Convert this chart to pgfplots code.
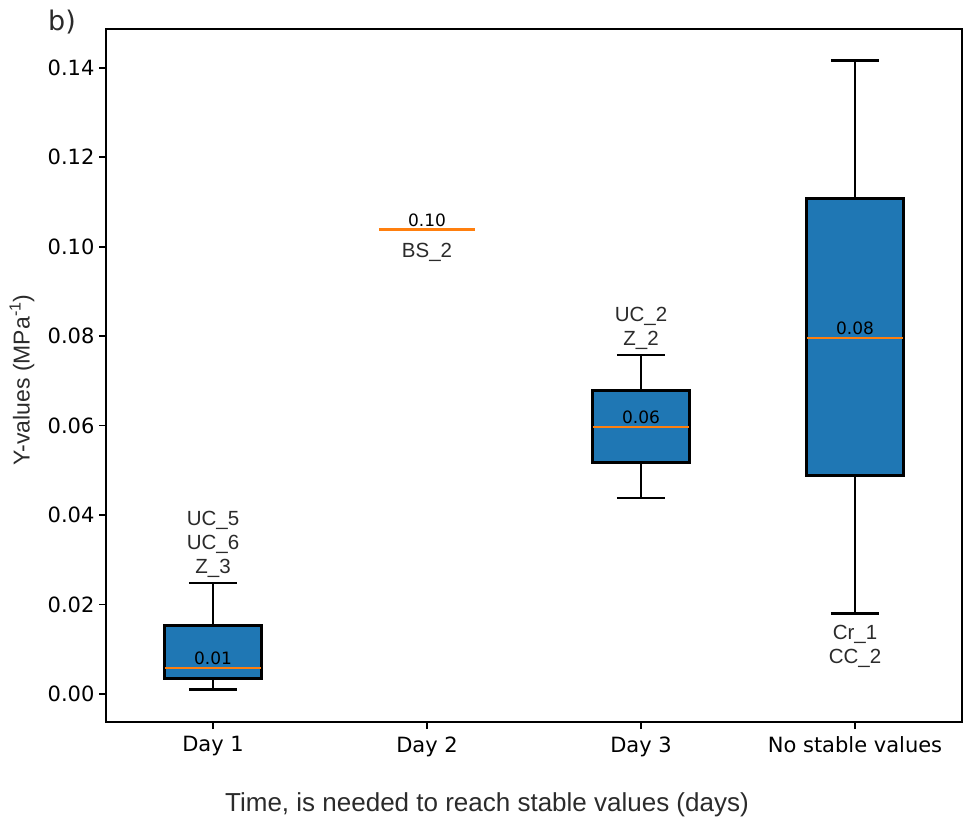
\documentclass[border=0pt]{standalone}
\usepackage{fontspec}
\setmainfont{DejaVu Sans}
\newfontfamily\labfont{Liberation Sans}
\usepackage{pgfplots}
\pgfplotsset{compat=1.18}

\definecolor{boxblue}{HTML}{1F77B4}
\definecolor{medorange}{HTML}{FF7F0E}
\definecolor{notegray}{HTML}{2B2B2B}

\newcommand{\tickfont}{\fontsize{21}{25}\selectfont}
\newcommand{\notefont}{\labfont\fontsize{20.5}{24}\selectfont\color{notegray}}
\newcommand{\medfont}{\fontsize{17}{20}\selectfont}

\pgfplotsset{
  boxbody/.style={draw=black, fill=boxblue, line width=2.8pt},
  whisk/.style={black, line width=2.8pt},
  med/.style={medorange, line width=2.8pt},
}

\begin{document}
\begin{tikzpicture}
\path[use as bounding box] (-106pt,-103pt) rectangle (859pt,722pt);
\begin{axis}[
  at={(0pt,0pt)}, anchor=south west,
  scale only axis,
  width=856pt, height=693pt,
  xmin=0.5, xmax=4.5,
  ymin=-0.0063, ymax=0.1487,
  xtick={1,2,3,4},
  xticklabels={Day 1, Day 2, Day 3, No stable values},
  ytick={0,0.02,0.04,0.06,0.08,0.1,0.12,0.14},
  scaled y ticks=false,
  yticklabel style={/pgf/number format/.cd, fixed, fixed zerofill, precision=2, /tikz/.cd},
  /pgf/number format/assume math mode=true,
  tick label style={font=\tickfont, black},
  tick align=outside,
  major tick length=7pt,
  tick style={line width=1.8pt, black},
  xtick pos=bottom, ytick pos=left,
  axis line style={line width=2pt},
  yticklabel style={xshift=-1pt},
  xticklabel style={yshift=-4pt},
  clip=false,
]

% Day 1: whiskers 0.0009 / 0.0248, quartiles 0.00335 / 0.0152, median 0.0058
\addplot[whisk] coordinates {(1,0.00335) (1,0.0009)};
\addplot[whisk] coordinates {(0.8875,0.0009) (1.1125,0.0009)};
\addplot[whisk] coordinates {(1,0.0152) (1,0.0248)};
\addplot[whisk] coordinates {(0.8875,0.0248) (1.1125,0.0248)};
\addplot[boxbody] coordinates {(0.775,0.00335) (1.225,0.00335) (1.225,0.0152) (0.775,0.0152)} -- cycle;
\addplot[med] coordinates {(0.775,0.0058) (1.225,0.0058)};

% Day 2: a single sample, so only the median line remains
\addplot[med] coordinates {(1.775,0.1038) (2.225,0.1038)};

% Day 3: whiskers 0.0438 / 0.0758, quartiles 0.0517 / 0.0678, median 0.0597
\addplot[whisk] coordinates {(3,0.0517) (3,0.0438)};
\addplot[whisk] coordinates {(2.8875,0.0438) (3.1125,0.0438)};
\addplot[whisk] coordinates {(3,0.0678) (3,0.0758)};
\addplot[whisk] coordinates {(2.8875,0.0758) (3.1125,0.0758)};
\addplot[boxbody] coordinates {(2.775,0.0517) (3.225,0.0517) (3.225,0.0678) (2.775,0.0678)} -- cycle;
\addplot[med] coordinates {(2.775,0.0597) (3.225,0.0597)};

% No stable values: whiskers 0.0179 / 0.1416, quartiles 0.0488 / 0.1107, median 0.0796
\addplot[whisk] coordinates {(4,0.0488) (4,0.0179)};
\addplot[whisk] coordinates {(3.8875,0.0179) (4.1125,0.0179)};
\addplot[whisk] coordinates {(4,0.1107) (4,0.1416)};
\addplot[whisk] coordinates {(3.8875,0.1416) (4.1125,0.1416)};
\addplot[boxbody] coordinates {(3.775,0.0488) (4.225,0.0488) (4.225,0.1107) (3.775,0.1107)} -- cycle;
\addplot[med] coordinates {(3.775,0.0796) (4.225,0.0796)};

% median values
\node[anchor=base, yshift=3pt, font=\medfont] at (axis cs:1,0.0058) {0.01};
\node[anchor=base, yshift=3pt, font=\medfont] at (axis cs:2,0.1038) {0.10};
\node[anchor=base, yshift=3pt, font=\medfont] at (axis cs:3,0.0597) {0.06};
\node[anchor=base, yshift=3pt, font=\medfont] at (axis cs:4,0.0796) {0.08};

% sample names at the whisker ends
\node[anchor=base, yshift=57pt, font=\notefont] at (axis cs:1,0.0248) {UC\_5};
\node[anchor=base, yshift=33pt, font=\notefont] at (axis cs:1,0.0248) {UC\_6};
\node[anchor=base, yshift=9pt, font=\notefont] at (axis cs:1,0.0248) {Z\_3};
\node[anchor=base, yshift=-28pt, font=\notefont] at (axis cs:2,0.1038) {BS\_2};
\node[anchor=base, yshift=33pt, font=\notefont] at (axis cs:3,0.0758) {UC\_2};
\node[anchor=base, yshift=9pt, font=\notefont] at (axis cs:3,0.0758) {Z\_2};
\node[anchor=base, yshift=-26pt, font=\notefont] at (axis cs:4,0.0179) {Cr\_1};
\node[anchor=base, yshift=-50pt, font=\notefont] at (axis cs:4,0.0179) {CC\_2};
\end{axis}

% axis titles and panel letter
\node[font=\labfont\fontsize{26}{30}\selectfont, text=notegray] at (381pt,-83pt) {Time, is needed to reach stable values (days)};
\node[font=\labfont\fontsize{23}{27}\selectfont, text=notegray, rotate=90] at (-84pt,342pt) {Y-values (MPa\textsuperscript{-1})};
\node[font=\fontsize{27}{31}\selectfont, text=notegray] at (-44pt,700pt) {b)};
\end{tikzpicture}
\end{document}
